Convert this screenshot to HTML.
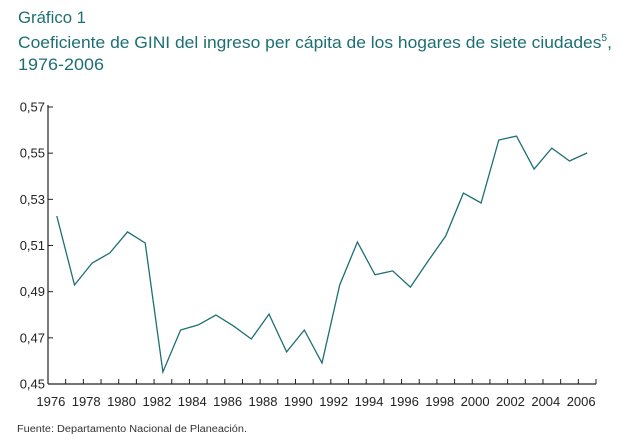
<!DOCTYPE html>
<html><head><meta charset="utf-8"><style>
html,body{margin:0;padding:0;background:#fff;}
svg{display:block;font-family:"Liberation Sans",sans-serif;}
</style></head><body>
<svg id="chart" width="628" height="443" viewBox="0 0 628 443">
<g fill="#1d6f74" font-size="17">
<text x="18" y="23" textLength="68" lengthAdjust="spacingAndGlyphs">Gráfico 1</text>
<text x="18" y="48" textLength="594" lengthAdjust="spacingAndGlyphs">Coeficiente de GINI del ingreso per cápita de los hogares de siete ciudades<tspan font-size="10" dy="-7">5</tspan><tspan dy="7">,</tspan></text>
<text x="18" y="70" textLength="86" lengthAdjust="spacingAndGlyphs">1976-2006</text>
</g>
<g id="axes"></g>
<g id="plot"></g>
<text x="17" y="432" font-size="10" fill="#333" textLength="230" lengthAdjust="spacingAndGlyphs">Fuente: Departamento Nacional de Planeación.</text>
</svg>
<script>
const years = [1976,1977,1978,1979,1980,1981,1982,1983,1984,1985,1986,1987,1988,1989,1990,1991,1992,1993,1994,1995,1996,1997,1998,1999,2000,2001,2002,2003,2004,2005,2006];
const gini = [0.5228,0.4929,0.5024,0.5068,0.5159,0.5111,0.4552,0.4734,0.4756,0.4799,0.4751,0.4695,0.4803,0.4639,0.4734,0.4591,0.4929,0.5115,0.4973,0.4990,0.4920,0.5033,0.5141,0.5327,0.5284,0.5557,0.5574,0.5431,0.5522,0.5466,0.5501];
const yTicks = [0.45,0.47,0.49,0.51,0.53,0.55,0.57];
const yTickLabels = ["0,45","0,47","0,49","0,51","0,53","0,55","0,57"];
const xLabelYears = [1976,1978,1980,1982,1984,1986,1988,1990,1992,1994,1996,1998,2000,2002,2004,2006];

const NS="http://www.w3.org/2000/svg";
const x0=48, x1=596, yTop=107, yBot=384, yMin=0.45, yMax=0.57;
const band=(x1-x0)/years.length;
const xS = yr => x0 + (yr-years[0])*band + band/2;
const yS = v => yBot - (v-yMin)/(yMax-yMin)*(yBot-yTop);
function mk(tag, attrs, parent){const e=document.createElementNS(NS,tag);for(const k in attrs)e.setAttribute(k,attrs[k]);parent.appendChild(e);return e;}
const axes=document.getElementById('axes'), plot=document.getElementById('plot');

let e=mk('line',{x1:x0,y1:yTop-2,x2:x0,y2:yBot,stroke:'#222','stroke-width':1.2},axes);


e=mk('line',{x1:x0,y1:yBot,x2:x1,y2:yBot,stroke:'#222','stroke-width':1.2},axes);



yTicks.forEach((t,i)=>{
  const y=yS(t);
  let tk=mk('line',{x1:x0,y1:y,x2:x0+5,y2:y,stroke:'#222','stroke-width':1},axes);
  
  
  let tx=mk('text',{x:x0-3,y:y+4.5,'text-anchor':'end','font-size':13,fill:'#222'},axes);
  tx.textContent=yTickLabels[i];
  
  
});
for(let i=1;i<=years.length;i++){
  const x=x0+i*band;
  let tk=mk('line',{x1:x,y1:yBot-5,x2:x,y2:yBot,stroke:'#222','stroke-width':1},axes);
  
  
}
xLabelYears.forEach(yr=>{
  let tx=mk('text',{x:xS(yr)-6,y:yBot+22,'text-anchor':'middle','font-size':13,fill:'#222'},axes);
  tx.textContent=String(yr);
  
  
});
const pts=gini.map((v,i)=>xS(years[i]).toFixed(1)+','+yS(v).toFixed(1)).join(' ');
let pl=mk('polyline',{points:pts,fill:'none',stroke:'#1d6f74','stroke-width':1.3,'stroke-linejoin':'miter'},plot);


</script>
</body></html>
